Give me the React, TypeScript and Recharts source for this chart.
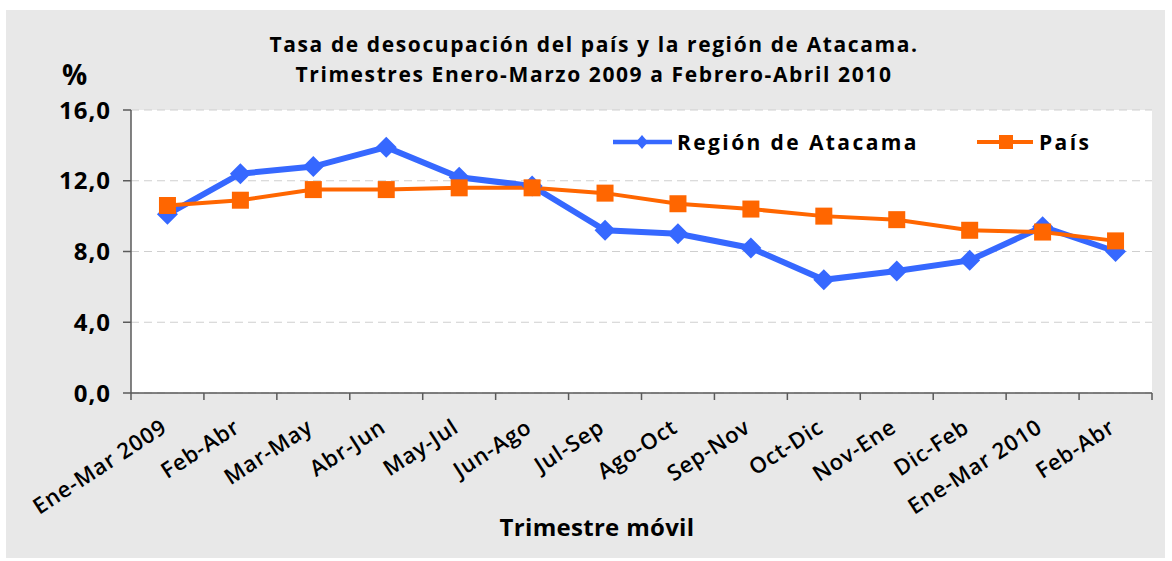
import { LineChart, Line, XAxis, YAxis, CartesianGrid } from "recharts"

const trimestres = [
    "Ene-Mar 2009",
    "Feb-Abr",
    "Mar-May",
    "Abr-Jun",
    "May-Jul",
    "Jun-Ago",
    "Jul-Sep",
    "Ago-Oct",
    "Sep-Nov",
    "Oct-Dic",
    "Nov-Ene",
    "Dic-Feb",
    "Ene-Mar 2010",
    "Feb-Abr",
]
const atacama = [10.1, 12.4, 12.8, 13.9, 12.2, 11.7, 9.2, 9.0, 8.2, 6.4, 6.9, 7.5, 9.4, 8.0]
const pais = [10.6, 10.9, 11.5, 11.5, 11.6, 11.6, 11.3, 10.7, 10.4, 10.0, 9.8, 9.2, 9.1, 8.6]
const yTicks = [0, 4, 8, 12, 16]

const data = trimestres.map((t, i) => ({ key: i, trimestre: t, atacama: atacama[i], pais: pais[i] }))

const BLUE = "#3668ff"
const ORANGE = "#ff6600"
const AXIS = "#5a5a5a"
const FONT = "'Open Sans', 'DejaVu Sans', sans-serif"

const Diamond = ({ cx, cy, w = 10.5, h = 10.5 }: any) => {
    if (cx == null || cy == null) return null
    return <path d={`M${cx},${cy - h}L${cx + w},${cy}L${cx},${cy + h}L${cx - w},${cy}Z`} fill={BLUE} />
}

const Square = ({ cx, cy, s = 8.5 }: any) => {
    if (cx == null || cy == null) return null
    return <rect x={cx - s} y={cy - s} width={s * 2} height={s * 2} fill={ORANGE} />
}

// etiquetas giradas y marcas entre categorías, como en Excel
const XTick = ({ x, y, payload, index }: any) => {
    const half = payload?.offset || 36.5
    return (
        <g>
            <line x1={x + half} x2={x + half} y1={y} y2={y + 7} stroke={AXIS} strokeWidth={1.5} />
            {index === 0 && <line x1={x - half} x2={x - half} y1={y} y2={y + 7} stroke={AXIS} strokeWidth={1.5} />}
            <text
                transform={`translate(${x + 1},${y + 38}) rotate(-33)`}
                textAnchor="end"
                fontFamily={FONT}
                fontWeight={600}
                fontSize={22}
                letterSpacing={0.8}
                fill="#000"
            >
                {trimestres[payload.value]}
            </text>
        </g>
    )
}

const LegendBox = () => (
    <svg width={1172} height={40} style={{ position: "absolute", left: 0, top: 122 }}>
        <line x1={613} x2={672} y1={20} y2={20} stroke={BLUE} strokeWidth={4.5} />
        <Diamond cx={642} cy={20} w={6} h={7} />
        <text x={677} y={28} fontFamily={FONT} fontWeight={700} fontSize={21} letterSpacing={2.4} fill="#000">
            Región de Atacama
        </text>
        <line x1={977} x2={1033} y1={20} y2={20} stroke={ORANGE} strokeWidth={4} />
        <Square cx={1006} cy={20} s={7} />
        <text x={1039} y={28} fontFamily={FONT} fontWeight={700} fontSize={21} letterSpacing={2.4} fill="#000">
            País
        </text>
    </svg>
)

export default function App() {
    return (
        <div style={{ position: "fixed", left: 0, top: 0, width: 1172, height: 561, background: "#fff" }}>
            <div
                style={{
                    position: "absolute",
                    left: 6,
                    top: 10,
                    width: 1159,
                    height: 548,
                    background: "#e8e8e8",
                }}
            />
            <div
                style={{
                    position: "absolute",
                    left: 0,
                    width: 1172,
                    top: 29,
                    textAlign: "center",
                    fontFamily: FONT,
                    fontWeight: 700,
                    fontSize: 21,
                    letterSpacing: 1.6,
                    lineHeight: "30px",
                    color: "#000",
                    paddingLeft: 16,
                    boxSizing: "border-box",
                }}
            >
                <div>Tasa de desocupación del país y la región de Atacama.</div>
                <div>Trimestres Enero-Marzo 2009 a Febrero-Abril 2010</div>
            </div>
            <div
                style={{
                    position: "absolute",
                    left: 62,
                    top: 55,
                    fontFamily: FONT,
                    fontWeight: 700,
                    fontSize: 28,
                    color: "#000",
                }}
            >
                %
            </div>
            <div
                style={{
                    position: "absolute",
                    left: 0,
                    width: 1194,
                    top: 510,
                    textAlign: "center",
                    fontFamily: FONT,
                    fontWeight: 700,
                    fontSize: 24,
                    letterSpacing: 0.3,
                    color: "#000",
                }}
            >
                Trimestre móvil
            </div>
            <div style={{ position: "absolute", left: 0, top: 0 }}>
                <LineChart width={1172} height={561} data={data} margin={{ top: 110, right: 20, left: 71, bottom: 48 }}>
                    <CartesianGrid vertical={false} stroke="#cfcfcf" strokeDasharray="8 5" fill="#ffffff" />
                    <XAxis
                        dataKey="key"
                        type="category"
                        scale="band"
                        interval={0}
                        height={120}
                        tickSize={0}
                        tickMargin={0}
                        axisLine={{ stroke: AXIS, strokeWidth: 1.5 }}
                        tick={<XTick />}
                    />
                    <YAxis
                        width={60}
                        domain={[0, 16]}
                        ticks={yTicks}
                        interval={0}
                        tickSize={8}
                        tickMargin={12}
                        axisLine={{ stroke: AXIS, strokeWidth: 1.5 }}
                        tickLine={{ stroke: AXIS, strokeWidth: 1.5 }}
                        tickFormatter={(v: number) => v.toFixed(1).replace(".", ",")}
                        tick={{ fontFamily: FONT, fontWeight: 700, fontSize: 24, letterSpacing: 1, fill: "#000" }}
                    />
                    <Line
                        dataKey="atacama"
                        name="Región de Atacama"
                        stroke={BLUE}
                        strokeWidth={6}
                        dot={<Diamond />}
                        activeDot={false}
                        isAnimationActive={false}
                    />
                    <Line
                        dataKey="pais"
                        name="País"
                        stroke={ORANGE}
                        strokeWidth={4}
                        dot={<Square />}
                        activeDot={false}
                        isAnimationActive={false}
                    />
                </LineChart>
            </div>
            <LegendBox />
        </div>
    )
}
